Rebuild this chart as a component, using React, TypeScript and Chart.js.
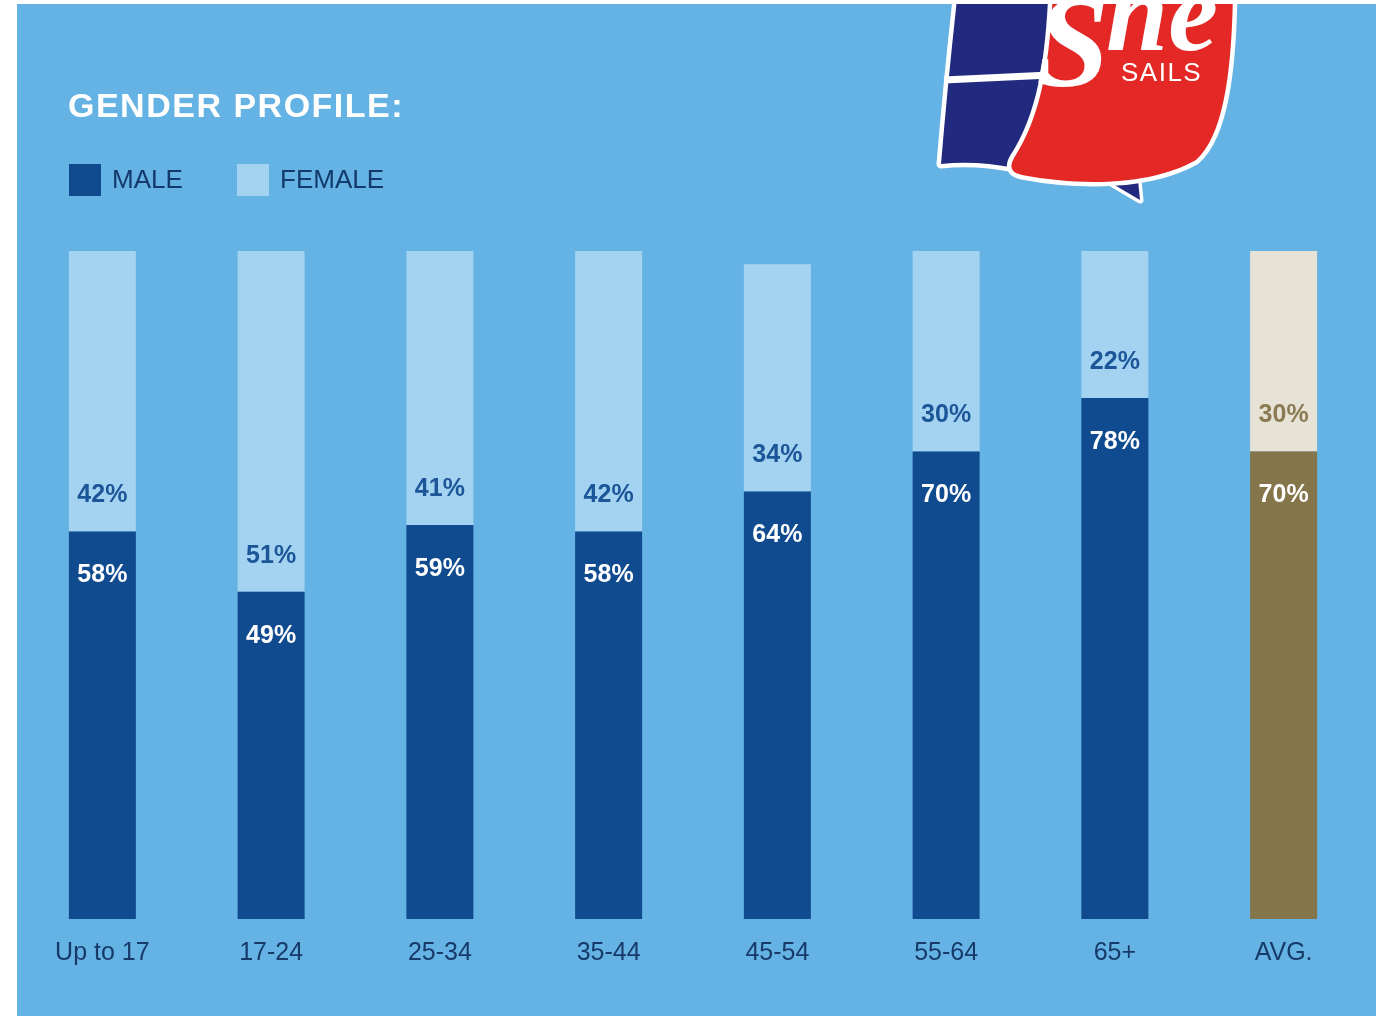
import React, { useEffect, useRef } from 'react';
import { Chart, registerables } from 'chart.js';

Chart.register(...registerables);

const categories = ['Up to 17', '17-24', '25-34', '35-44', '45-54', '55-64', '65+', 'AVG.'];
const maleValues = [58, 49, 59, 58, 64, 70, 78, 70];
const femaleValues = [42, 51, 41, 42, 34, 30, 22, 30];
const maleColors = ['#114b8f', '#114b8f', '#114b8f', '#114b8f', '#114b8f', '#114b8f', '#114b8f', '#85754b'];
const femaleColors = ['#a3d3f1', '#a3d3f1', '#a3d3f1', '#a3d3f1', '#a3d3f1', '#a3d3f1', '#a3d3f1', '#e7e2d6'];
const femaleLabelColors = ['#1c5598', '#1c5598', '#1c5598', '#1c5598', '#1c5598', '#1c5598', '#1c5598', '#8b7b52'];
const seriesNames = ['MALE', 'FEMALE'];
const titleText = 'GENDER PROFILE:';

const OX = 17;
const OY = 4;
const PANEL_W = 1359;
const PANEL_H = 1012;

const decorPlugin = {
  id: 'decor',
  afterDatasetsDraw(chart: any) {
    const ctx = chart.ctx;
    ctx.save();
    ctx.textAlign = 'center';
    ctx.textBaseline = 'middle';
    ctx.font = 'bold 25px "Liberation Sans", Arial, sans-serif';
    const meta = chart.getDatasetMeta(0);
    meta.data.forEach((el: any, i: number) => {
      const x = el.x;
      const y = el.y;
      ctx.fillStyle = '#ffffff';
      ctx.fillText(maleValues[i] + '%', x, y + 44);
      ctx.fillStyle = femaleLabelColors[i];
      ctx.fillText(femaleValues[i] + '%', x, y - 36);
    });
    ctx.restore();
  },
  afterDraw(chart: any) {
    const ctx = chart.ctx;
    ctx.save();
    // Title
    ctx.fillStyle = '#ffffff';
    ctx.font = 'bold 34px "Liberation Sans", Arial, sans-serif';
    ctx.textAlign = 'left';
    ctx.textBaseline = 'middle';
    (ctx as any).letterSpacing = '1.5px';
    ctx.fillText(titleText, 68 - OX, 108 - OY);
    (ctx as any).letterSpacing = '0px';

    // Legend
    const legendX = [69, 237];
    ctx.font = '26px "Liberation Sans", Arial, sans-serif';
    seriesNames.forEach((name, i) => {
      ctx.fillStyle = i === 0 ? maleColors[0] : femaleColors[0];
      ctx.fillRect(legendX[i] - OX, 164 - OY, 32, 32);
      ctx.fillStyle = '#14396b';
      ctx.fillText(name, legendX[i] + 43 - OX, 181 - OY);
    });

    // Logo
    ctx.translate(-OX, -OY);
    ctx.lineJoin = 'round';
    // navy sail
    ctx.beginPath();
    ctx.moveTo(958, -10);
    ctx.lineTo(1060, -10);
    ctx.lineTo(1048, 100);
    ctx.lineTo(1015, 168);
    ctx.quadraticCurveTo(975, 160, 941, 164);
    ctx.quadraticCurveTo(948, 80, 958, -10);
    ctx.closePath();
    ctx.strokeStyle = '#ffffff';
    ctx.lineWidth = 9;
    ctx.stroke();
    ctx.fillStyle = '#222a80';
    ctx.fill();
    // divider
    ctx.beginPath();
    ctx.moveTo(944, 80);
    ctx.lineTo(1050, 75);
    ctx.lineWidth = 7;
    ctx.stroke();
    // tail
    ctx.beginPath();
    ctx.moveTo(1106, 180);
    ctx.lineTo(1138, 180);
    ctx.lineTo(1140, 200);
    ctx.closePath();
    ctx.lineWidth = 7;
    ctx.stroke();
    ctx.fillStyle = '#222a80';
    ctx.fill();
    // red sail
    ctx.beginPath();
    ctx.moveTo(1053, -10);
    ctx.bezierCurveTo(1050, 60, 1042, 115, 1014, 158);
    ctx.quadraticCurveTo(1006, 172, 1022, 175);
    ctx.bezierCurveTo(1080, 186, 1150, 186, 1196, 160);
    ctx.bezierCurveTo(1224, 135, 1232, 70, 1233, -10);
    ctx.closePath();
    ctx.lineWidth = 9;
    ctx.strokeStyle = '#ffffff';
    ctx.stroke();
    ctx.fillStyle = '#e32825';
    ctx.fill();
    // She
    ctx.fillStyle = '#ffffff';
    ctx.textAlign = 'left';
    ctx.textBaseline = 'alphabetic';
    ctx.font = 'bold italic 132px "Liberation Serif", serif';
    ctx.fillText('S', 1036, 86);
    ctx.font = 'bold italic 112px "Liberation Serif", serif';
    ctx.fillText('he', 1106, 50);
    ctx.font = '26px "Liberation Sans", Arial, sans-serif';
    (ctx as any).letterSpacing = '1.5px';
    ctx.textBaseline = 'middle';
    ctx.fillText('SAILS', 1121, 74);
    (ctx as any).letterSpacing = '0px';
    ctx.restore();
  },
};

export default function App() {
  const ref = useRef<HTMLCanvasElement | null>(null);
  useEffect(() => {
    if (!ref.current) return;
    const chart = new Chart(ref.current, {
      type: 'bar',
      data: {
        labels: categories,
        datasets: [
          {
            label: seriesNames[0],
            data: maleValues,
            backgroundColor: maleColors,
            categoryPercentage: 1,
            barPercentage: 0.397,
          },
          {
            label: seriesNames[1],
            data: femaleValues,
            backgroundColor: femaleColors,
            categoryPercentage: 1,
            barPercentage: 0.397,
          },
        ],
      },
      options: {
        responsive: false,
        animation: false,
        devicePixelRatio: 1,
        layout: { padding: { top: 247, left: 1, right: 8, bottom: 29 } },
        plugins: {
          legend: { display: false },
          title: { display: false },
          tooltip: { enabled: false },
        },
        scales: {
          x: {
            stacked: true,
            grid: { display: false, drawTicks: false },
            border: { display: false },
            ticks: {
              color: '#173a68',
              padding: 19,
              font: { family: '"Liberation Sans", Arial, sans-serif', size: 25 },
            },
          },
          y: {
            stacked: true,
            display: false,
            min: 0,
            max: 100,
          },
        },
      },
      plugins: [decorPlugin],
    });
    return () => chart.destroy();
  }, []);
  return (
    <div
      style={{
        position: 'absolute',
        left: OX,
        top: OY,
        width: PANEL_W,
        height: PANEL_H,
        background: '#64b3e4',
        overflow: 'hidden',
      }}
    >
      <canvas ref={ref} width={PANEL_W} height={PANEL_H} style={{ width: PANEL_W, height: PANEL_H, display: 'block' }} />
    </div>
  );
}
